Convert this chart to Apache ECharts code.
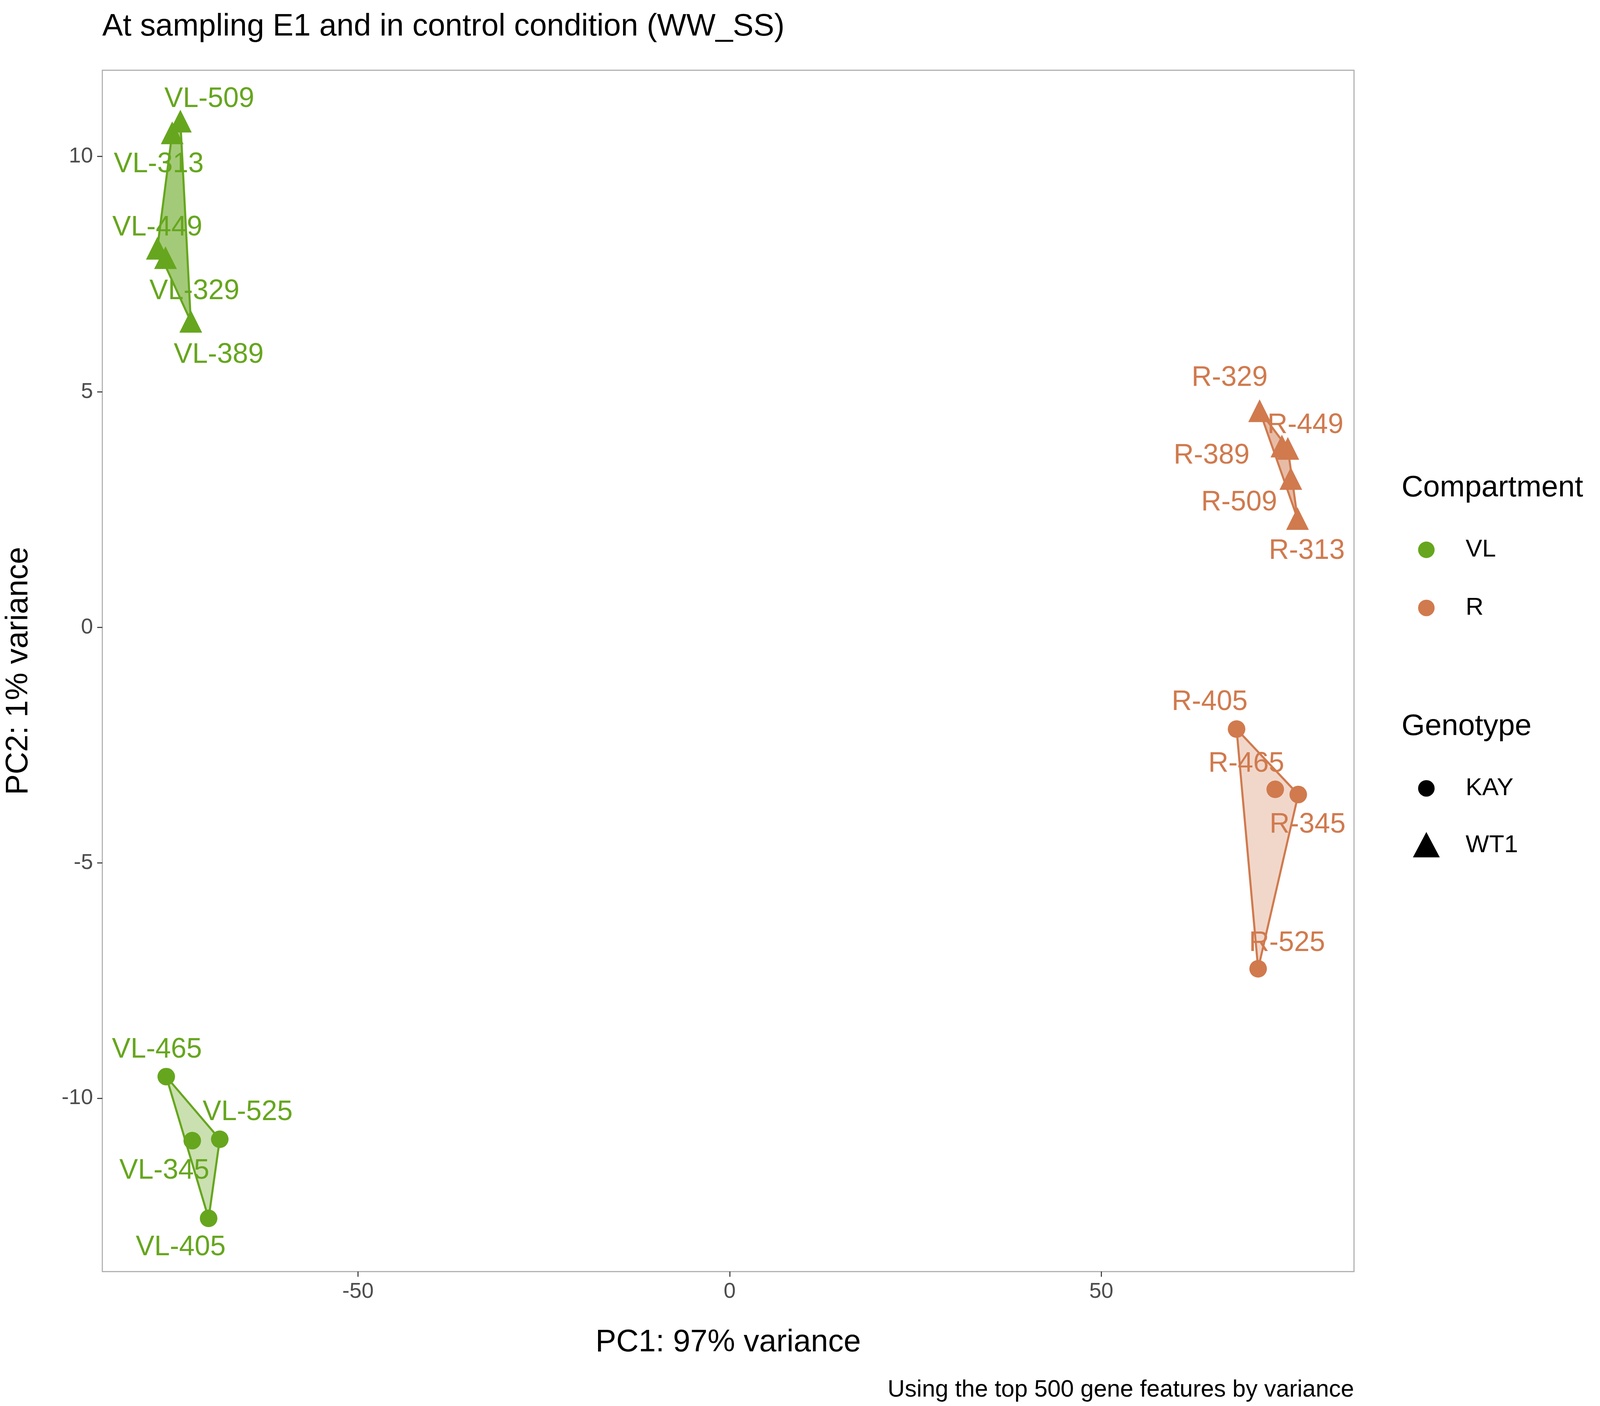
<!DOCTYPE html>
<html>
<head>
<meta charset="utf-8">
<title>PCA</title>
<style>html,body{margin:0;padding:0;width:100%;height:100%;overflow:hidden;background:#fff}</style>
</head>
<body>
<div id="main" style="width:100vw;height:100vh;"></div>
<script src="https://cdn.jsdelivr.net/npm/echarts@6/dist/echarts.min.js"></script>
<script>
// samples: name, PC1, PC2
var vlWT1 = [['VL-509', -73.9, 10.75], ['VL-313', -75.0, 10.5], ['VL-449', -77.0, 8.05], ['VL-329', -75.9, 7.85], ['VL-389', -72.5, 6.5]];
var vlKAY = [['VL-465', -75.8, -9.54], ['VL-345', -72.3, -10.9], ['VL-525', -68.6, -10.87], ['VL-405', -70.1, -12.55]];
var rWT1 = [['R-329', 71.3, 4.6], ['R-449', 75.1, 3.8], ['R-389', 74.3, 3.85], ['R-509', 75.5, 3.16], ['R-313', 76.4, 2.31]];
var rKAY = [['R-405', 68.2, -2.16], ['R-465', 73.4, -3.44], ['R-345', 76.5, -3.55], ['R-525', 71.1, -7.25]];
var xTicks = [-50, 0, 50];
var yTicks = [-10, -5, 0, 5, 10];

// label offsets in reference units
var labelOffset = {
  'VL-509': [28, -18], 'VL-313': [-13, 26], 'VL-449': [0, -17], 'VL-329': [28, 28], 'VL-389': [27, 28],
  'VL-465': [-9, -22], 'VL-525': [27, -22], 'VL-345': [-27, 25], 'VL-405': [-27, 24],
  'R-329': [-29, -27], 'R-449': [17, -19], 'R-389': [-68, 8], 'R-509': [-50, 20], 'R-313': [9, 27],
  'R-405': [-26, -22], 'R-465': [-28, -21], 'R-345': [9, 25], 'R-525': [28, -21]
};

var chart = echarts.init(document.getElementById('main'));
var W = chart.getWidth(), H = chart.getHeight();
var S = W / 1548, SY = H / 1161;
var GREEN = '#66A61E', ORANGE = '#D07A4E';
var FONT = 'Liberation Sans, Arial, sans-serif';

function hull(pts) {
  var p = pts.map(function (d) { return [d[1], d[2]]; }).sort(function (a, b) { return a[0] - b[0] || a[1] - b[1]; });
  function cross(o, a, b) { return (a[0] - o[0]) * (b[1] - o[1]) - (a[1] - o[1]) * (b[0] - o[0]); }
  var lo = [], up = [];
  p.forEach(function (q) { while (lo.length >= 2 && cross(lo[lo.length - 2], lo[lo.length - 1], q) <= 0) lo.pop(); lo.push(q); });
  p.slice().reverse().forEach(function (q) { while (up.length >= 2 && cross(up[up.length - 2], up[up.length - 1], q) <= 0) up.pop(); up.push(q); });
  lo.pop(); up.pop();
  return lo.concat(up);
}

function hullSeries(pts, color, alpha) {
  var h = hull(pts);
  return {
    type: 'custom', silent: true, z: 1,
    data: [0],
    renderItem: function (params, api) {
      return {
        type: 'polygon',
        shape: { points: h.map(function (q) { return api.coord(q); }) },
        style: { fill: color, opacity: 1, fillOpacity: alpha, stroke: color, lineWidth: 2 * S }
      };
    }
  };
}

function pointSeries(pts, color, symbol, size) {
  return {
    type: 'scatter', z: 3, symbol: symbol, symbolSize: size * S,
    itemStyle: { color: color, opacity: 1 },
    data: pts.map(function (d) {
      var o = labelOffset[d[0]];
      return {
        value: [d[1], d[2]], name: d[0],
        label: { show: true, position: 'inside', offset: [o[0] * S, o[1] * SY], formatter: '{b}',
          color: color, fontSize: 27 * S, fontFamily: FONT }
      };
    })
  };
}

var tickStyle = { show: true, length: 5 * S, lineStyle: { color: '#333', width: 1 * S } };
chart.setOption({
  animation: false,
  backgroundColor: '#fff',
  title: {
    text: 'At sampling E1 and in control condition (WW_SS)',
    left: 97 * S, top: 8 * SY,
    textStyle: { fontSize: 30 * S, fontWeight: 'normal', fontFamily: FONT, color: '#000' }
  },
  grid: { left: 99 * S, right: W - 1310 * S, top: 58 * SY, bottom: H - 1050 * SY,
    show: true, borderColor: '#AAAAAA', borderWidth: 1 * S },
  xAxis: {
    type: 'value', min: -84.4, max: 84.0,
    name: 'PC1: 97% variance', nameLocation: 'middle', nameGap: 46 * SY,
    nameTextStyle: { fontSize: 30 * S, fontFamily: FONT, color: '#000' },
    axisLine: { show: false, onZero: false },
    splitLine: { show: false },
    axisLabel: { fontSize: 21 * S, color: '#4D4D4D', fontFamily: FONT, margin: 9 * S, customValues: xTicks },
    axisTick: Object.assign({ customValues: xTicks }, tickStyle)
  },
  yAxis: {
    type: 'value', min: -13.68, max: 11.83,
    name: 'PC2: 1% variance', nameLocation: 'middle', nameGap: 66 * S,
    nameTextStyle: { fontSize: 30 * S, fontFamily: FONT, color: '#000' },
    axisLine: { show: false, onZero: false },
    splitLine: { show: false },
    axisLabel: { fontSize: 21 * S, color: '#4D4D4D', fontFamily: FONT, margin: 9 * S, customValues: yTicks },
    axisTick: Object.assign({ customValues: yTicks }, tickStyle)
  },
  series: [
    hullSeries(vlWT1, GREEN, 0.6),
    hullSeries(vlKAY, GREEN, 0.35),
    hullSeries(rWT1, ORANGE, 0.5),
    hullSeries(rKAY, ORANGE, 0.3),
    pointSeries(vlWT1, GREEN, 'triangle', 22),
    pointSeries(vlKAY, GREEN, 'circle', 17),
    pointSeries(rWT1, ORANGE, 'triangle', 22),
    pointSeries(rKAY, ORANGE, 'circle', 17)
  ],
  graphic: [
    { type: 'text', x: 1356 * S, y: 403 * SY, style: { text: 'Compartment', fontSize: 29 * S, fontFamily: FONT, fill: '#000', verticalAlign: 'middle' } },
    { type: 'circle', shape: { cx: 1380 * S, cy: 454 * SY, r: 8 * S }, style: { fill: GREEN } },
    { type: 'circle', shape: { cx: 1380 * S, cy: 502 * SY, r: 8 * S }, style: { fill: ORANGE } },
    { type: 'text', x: 1418 * S, y: 454 * SY, style: { text: 'VL', fontSize: 24 * S, fontFamily: FONT, fill: '#000', verticalAlign: 'middle' } },
    { type: 'text', x: 1418 * S, y: 502 * SY, style: { text: 'R', fontSize: 24 * S, fontFamily: FONT, fill: '#000', verticalAlign: 'middle' } },
    { type: 'text', x: 1356 * S, y: 600 * SY, style: { text: 'Genotype', fontSize: 29 * S, fontFamily: FONT, fill: '#000', verticalAlign: 'middle' } },
    { type: 'circle', shape: { cx: 1380 * S, cy: 651 * SY, r: 8 * S }, style: { fill: '#000' } },
    { type: 'polygon', shape: { points: [[1380 * S, 687 * SY], [1367 * S, 708 * SY], [1393 * S, 708 * SY]] }, style: { fill: '#000' } },
    { type: 'text', x: 1418 * S, y: 651 * SY, style: { text: 'KAY', fontSize: 24 * S, fontFamily: FONT, fill: '#000', verticalAlign: 'middle' } },
    { type: 'text', x: 1418 * S, y: 698 * SY, style: { text: 'WT1', fontSize: 24 * S, fontFamily: FONT, fill: '#000', verticalAlign: 'middle' } },
    { type: 'text', x: 1310 * S, y: 1148 * SY, style: { text: 'Using the top 500 gene features by variance', fontSize: 23 * S, fontFamily: FONT, fill: '#000', align: 'right', verticalAlign: 'middle' } }
  ]
});
</script>
</body>
</html>
